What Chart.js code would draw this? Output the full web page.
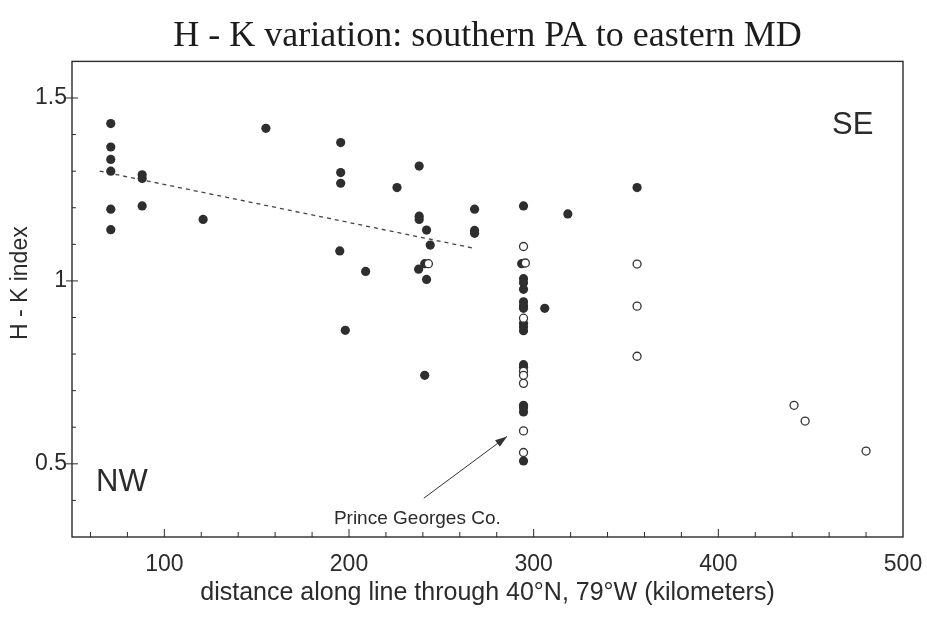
<!DOCTYPE html>
<html>
<head>
<meta charset="utf-8">
<script src="https://cdn.jsdelivr.net/npm/chart.js@4/dist/chart.umd.min.js"></script>
<style>
html,body{margin:0;padding:0;background:#fff;}
#wrap{width:927px;height:629px;}
</style>
</head>
<body>
<div id="wrap"><canvas id="c" width="927" height="629"></canvas></div>
<script>
// ---- data ----
const filledX = [71,71,71,71,71,71, 88,88,88, 121, 155, 195.5,195.5,195.5,195, 198, 209, 226, 238,238,238, 237.7, 242, 244, 242, 241, 268,268,268,
  294.5,294.5,294.5,294.5,294.5,294.5,294.5,294.5,294.5,294.5,294.5,294.5,294.5,294.5,294.5,294.5, 293.5, 241, 306, 318.5, 356];
const filledY = [1.43,1.366,1.332,1.30,1.196,1.14, 1.29,1.28,1.205, 1.168, 1.417, 1.378,1.296,1.267,1.082, 0.865, 1.026, 1.255, 1.314,1.177,1.168, 1.032, 1.139, 1.098, 1.004, 0.742, 1.196,1.138,1.13,
  1.205,1.006,0.995,0.977,0.943,0.932,0.925,0.884,0.875,0.864,0.771,0.764,0.66,0.653,0.642,0.508, 1.047, 1.047, 0.925, 1.183, 1.255];
const openX = [243, 294.5, 295.5, 294.5,294.5,294.5,294.5,294.5,294.5, 356,356,356, 441, 447, 480];
const openY = [1.047, 1.094, 1.049, 0.898,0.753,0.742,0.72,0.59,0.531, 1.046,0.931,0.794, 0.66, 0.617, 0.535];
const trendX = [65, 267];
const trendY = [1.30, 1.09];
const xTickValues = [100, 200, 300, 400, 500];
const xTickLabels = ['100', '200', '300', '400', '500'];
const yTickValues = [0.5, 1, 1.5];
const yTickLabels = ['0.5', '1', '1.5'];
const titleText = 'H - K variation: southern PA to eastern MD';
const xTitle = 'distance along line through 40\u00B0N, 79\u00B0W (kilometers)';
const yTitle = 'H - K index';

const toPts = (xs, ys) => xs.map((x, i) => ({x: x, y: ys[i]}));
const INK = '#2b2b2b';
const SANS = "'Liberation Sans', Arial, sans-serif";

function majorIndex(vals, v) {
  for (let i = 0; i < vals.length; i++) if (Math.abs(vals[i] - v) < 1e-6) return i;
  return -1;
}

const decor = {
  id: 'decor',
  afterDraw(chart) {
    const ctx = chart.ctx;
    const xs = chart.scales.x, ys = chart.scales.y;
    const a = chart.chartArea;
    ctx.save();
    // frame
    ctx.strokeStyle = INK;
    ctx.lineWidth = 1.4;
    ctx.strokeRect(a.left, a.top, a.right - a.left, a.bottom - a.top);
    // y ticks
    ctx.lineWidth = 1;
    ys.ticks.forEach(t => {
      const py = ys.getPixelForValue(t.value);
      if (py < a.top + 1 || py > a.bottom - 1) return;
      const major = majorIndex(yTickValues, t.value) >= 0;
      ctx.beginPath();
      if (major) { ctx.moveTo(a.left - 6, py); ctx.lineTo(a.left + 6, py); }
      else { ctx.moveTo(a.left, py); ctx.lineTo(a.left + 4, py); }
      ctx.stroke();
    });
    // x ticks
    xs.ticks.forEach(t => {
      const px = xs.getPixelForValue(t.value);
      if (px < a.left + 1 || px > a.right - 1) return;
      const major = majorIndex(xTickValues, t.value) >= 0;
      ctx.beginPath();
      ctx.moveTo(px, a.bottom);
      ctx.lineTo(px, a.bottom - (major ? 8 : 5));
      ctx.stroke();
    });
    // y axis title
    ctx.fillStyle = INK;
    ctx.save();
    ctx.translate(21, (a.top + a.bottom) / 2 - 16);
    ctx.rotate(-Math.PI / 2);
    ctx.font = "23px " + SANS;
    ctx.textAlign = 'center';
    ctx.textBaseline = 'middle';
    ctx.fillText(yTitle, 0, 0);
    ctx.restore();
    // corner labels
    ctx.font = "31px " + SANS;
    ctx.textBaseline = 'middle';
    ctx.textAlign = 'left';
    ctx.fillText('NW', xs.getPixelForValue(63), ys.getPixelForValue(0.45));
    ctx.textAlign = 'right';
    ctx.fillText('SE', xs.getPixelForValue(484), ys.getPixelForValue(1.425));
    // Prince Georges annotation
    ctx.font = "19px " + SANS;
    ctx.textAlign = 'center';
    ctx.fillText('Prince Georges Co.', xs.getPixelForValue(237), ys.getPixelForValue(0.35));
    const x0 = xs.getPixelForValue(240.5), y0 = ys.getPixelForValue(0.406);
    const x1 = xs.getPixelForValue(285.6), y1 = ys.getPixelForValue(0.575);
    ctx.strokeStyle = '#333';
    ctx.lineWidth = 1;
    ctx.beginPath(); ctx.moveTo(x0, y0); ctx.lineTo(x1, y1); ctx.stroke();
    const ang = Math.atan2(y1 - y0, x1 - x0);
    const L = 12, W = 4;
    ctx.beginPath();
    ctx.moveTo(x1, y1);
    ctx.lineTo(x1 - L * Math.cos(ang) + W * Math.sin(ang), y1 - L * Math.sin(ang) - W * Math.cos(ang));
    ctx.lineTo(x1 - L * Math.cos(ang) - W * Math.sin(ang), y1 - L * Math.sin(ang) + W * Math.cos(ang));
    ctx.closePath();
    ctx.fillStyle = '#333';
    ctx.fill();
    ctx.restore();
  }
};

new Chart(document.getElementById('c'), {
  type: 'scatter',
  data: {
    datasets: [
      {label: 'open', data: toPts(openX, openY), order: 1,
        pointRadius: 4, pointBorderWidth: 1.3, pointBackgroundColor: '#fff', pointBorderColor: '#333', showLine: false},
      {label: 'filled', data: toPts(filledX, filledY), order: 2,
        pointRadius: 4.6, pointBorderWidth: 0, pointBackgroundColor: '#2e2e2e', pointBorderColor: '#2e2e2e', showLine: false},
      {label: 'trend', data: toPts(trendX, trendY), order: 3, showLine: true,
        borderColor: '#444', borderWidth: 1.3, borderDash: [4, 4], pointRadius: 0, fill: false}
    ]
  },
  options: {
    responsive: false,
    animation: false,
    events: [],
    layout: {padding: {left: 0, right: 24, top: 0, bottom: 0}},
    plugins: {
      legend: {display: false},
      tooltip: {enabled: false},
      title: {display: true, text: titleText, fullSize: false, color: '#1c1c1c',
        font: {family: "'Liberation Serif', 'Times New Roman', serif", size: 36, weight: 'normal', lineHeight: 1.15},
        padding: {top: 16, bottom: 4}}
    },
    scales: {
      x: {
        type: 'linear', min: 50, max: 500,
        grid: {display: false, drawTicks: false},
        border: {display: false},
        ticks: {stepSize: 20, includeBounds: false, autoSkip: false, maxRotation: 0, padding: 14,
          color: INK, font: {family: SANS, size: 23},
          callback: (v) => { const i = majorIndex(xTickValues, v); return i >= 0 ? xTickLabels[i] : ''; }},
        title: {display: true, text: xTitle, color: INK, font: {family: SANS, size: 25}, padding: {top: 0, bottom: 21}},
        afterFit: (s) => { s.height = 92; s.paddingLeft = 0; s.paddingRight = 0; }
      },
      y: {
        type: 'linear', min: 0.3, max: 1.6,
        grid: {display: false, drawTicks: false},
        border: {display: false},
        ticks: {stepSize: 0.1, autoSkip: false, padding: 5,
          color: INK, font: {family: SANS, size: 23},
          callback: (v) => { const i = majorIndex(yTickValues, v); return i >= 0 ? yTickLabels[i] : ''; }},
        title: {display: false},
        afterFit: (s) => { s.width = 72; s.paddingTop = 0; s.paddingBottom = 0; }
      }
    }
  },
  plugins: [decor]
});
</script>
</body>
</html>
